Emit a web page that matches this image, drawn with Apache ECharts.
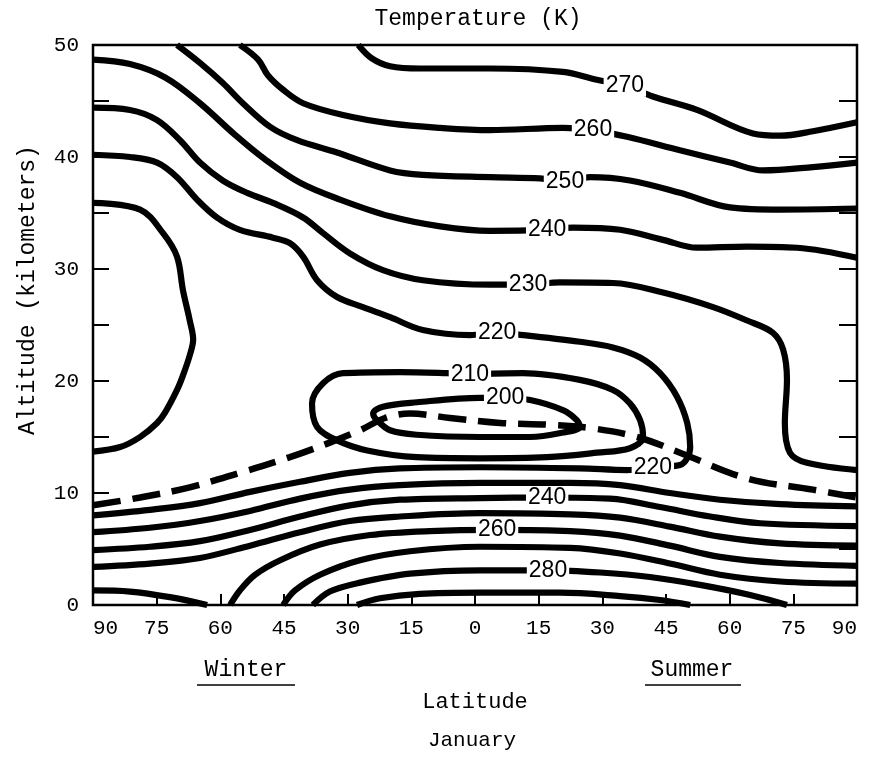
<!DOCTYPE html>
<html>
<head>
<meta charset="utf-8">
<script src="https://cdn.jsdelivr.net/npm/echarts@6/dist/echarts.min.js"></script>
<style>
  html, body { margin: 0; padding: 0; background: #fff; }
  #chart { width: 875px; height: 757px; }
</style>
</head>
<body>
<div id="chart"></div>
<script>
// January temperature (K): latitude (winter < 0 < summer) vs altitude (km)
// every contour is a list of [latitude, altitude] points

var c270 = [[-27.5, 50], [-24.3, 48.8], [-20.0, 48.1], [-13.0, 47.9], [3.5, 47.9], [20.7, 47.6], [28.7, 46.9], [35.3, 46.4], [41.9, 45.4], [52.3, 44.2], [65.5, 42.1], [71.9, 41.9], [79.6, 42.3], [90, 43.1]]
var c260 = [[-55.4, 50], [-51.1, 48.7], [-48.8, 47.3], [-45.2, 46.0], [-40.5, 44.8], [-31.1, 43.75], [-20.0, 43.0], [-8.2, 42.6], [3.5, 42.4], [20.7, 42.6], [27.8, 42.4], [35.8, 41.8], [48.3, 40.6], [60.1, 39.5], [67.9, 38.8], [79.6, 39.1], [90, 39.5]]
var c250 = [[-70.2, 50], [-64.8, 48.4], [-59.4, 46.6], [-54.7, 44.8], [-48.3, 42.7], [-41.9, 41.5], [-32.5, 40.4], [-20.0, 38.8], [-12.3, 38.4], [3.5, 38.2], [15.3, 38.1], [21.2, 37.9], [27.1, 38.2], [36.5, 37.9], [48.3, 36.8], [60.1, 35.5], [71.9, 35.3], [90, 35.4]]
var c240 = [[-90, 48.7], [-81.3, 48.3], [-73.0, 47.1], [-64.8, 44.8], [-56.6, 42.0], [-49.5, 39.8], [-41.2, 37.7], [-31.8, 36.2], [-20.0, 34.7], [-8.2, 33.8], [3.5, 33.4], [17.0, 33.5], [23.1, 33.7], [34.2, 33.5], [44.3, 32.6], [52.3, 31.9], [64.1, 32.0], [75.9, 31.9], [90, 31.0]]
var c230 = [[-90, 44.4], [-81.3, 44.2], [-74.9, 43.3], [-69.5, 41.5], [-64.8, 39.5], [-59.4, 37.9], [-53.7, 36.8], [-47.6, 35.9], [-40.5, 34.6], [-35.8, 33.2], [-29.5, 31.4], [-21.7, 29.9], [-12.3, 29.0], [3.5, 28.6], [12.5, 28.6], [20.0, 28.8], [32.5, 28.75], [44.3, 27.9], [56.1, 26.6], [64.1, 25.4], [70.2, 24.3], [72.6, 22.8], [73.5, 20.1], [73.0, 16.25], [74.2, 13.6], [78.2, 12.7], [90, 12.05]]
// 220 runs in from the winter side, round the 210 cell and back out below it
var c220 = [[-90, 40.2], [-81.3, 40.0], [-74.9, 39.5], [-70.2, 38.2], [-65.5, 36.2], [-60.8, 34.6], [-55.4, 33.5], [-47.6, 32.8], [-43.6, 32.3], [-40.5, 31.1], [-37.2, 29.0], [-32.5, 27.5], [-26.4, 26.6], [-20.0, 25.7], [-12.3, 24.55], [-1.2, 24.1], [5.2, 24.3], [11.3, 24.1], [24.7, 23.5], [32.5, 23.0], [38.9, 22.1], [43.6, 20.7], [47.6, 18.6], [50.0, 16.25], [50.7, 14.1], [50.0, 13.1], [48.3, 12.5], [41.9, 12.3], [35.8, 12.05], [24.7, 12.2], [1.2, 12.3], [-17.7, 12.2], [-29.5, 11.8], [-41.2, 11.0], [-53.0, 10.1], [-64.8, 9.1], [-76.6, 8.5], [-90, 8.0]]
var c210w = [[-90, 35.9], [-78.9, 35.3], [-73.5, 33.2], [-70.2, 31.1], [-68.8, 28.1], [-67.2, 25.4], [-66.4, 23.7], [-67.2, 22.3], [-68.8, 20.5], [-70.2, 19.2], [-73.0, 17.2], [-74.9, 16.25], [-78.9, 15.0], [-83.6, 14.1], [-90, 13.7]]
var c210 = [[-1.2, 20.6], [11.3, 20.7], [24.7, 20.1], [32.5, 19.2], [36.5, 18.0], [38.9, 16.5], [39.6, 15.0], [36.5, 14.0], [28.7, 13.6], [17.0, 13.2], [1.2, 13.1], [-13.7, 13.2], [-25.4, 13.8], [-32.5, 14.7], [-37.2, 15.9], [-38.4, 18.0], [-35.8, 19.8], [-31.1, 20.7], [-17.7, 20.8], [-6.6, 20.7], [-1.2, 20.6]]
var c200 = [[6.6, 18.5], [13.0, 18.3], [20.7, 17.4], [24.0, 16.5], [24.7, 15.9], [20.7, 15.4], [13.0, 15.0], [1.2, 15.0], [-13.7, 15.2], [-20.0, 15.6], [-23.1, 16.5], [-24.0, 17.1], [-21.7, 17.7], [-13.7, 18.1], [1.2, 18.5], [6.6, 18.5]]
var c230b = [[-90, 6.5], [-76.6, 6.9], [-64.8, 7.5], [-53.0, 8.4], [-41.2, 9.5], [-29.5, 10.3], [-17.7, 10.7], [1.2, 10.9], [22.4, 10.9], [34.2, 10.7], [45.9, 10.0], [57.7, 9.4], [71.9, 9.0], [90, 8.8]]
var c240b = [[-90, 4.9], [-76.6, 5.2], [-64.8, 5.7], [-53.0, 6.7], [-41.2, 7.9], [-29.5, 8.9], [-17.7, 9.4], [1.2, 9.55], [17.0, 9.6], [31.8, 9.5], [43.6, 8.75], [55.4, 7.9], [67.2, 7.3], [90, 7.05]]
var c250b = [[-90, 3.4], [-76.6, 3.7], [-64.8, 4.2], [-53.0, 5.3], [-41.2, 6.5], [-29.5, 7.5], [-17.7, 7.9], [1.2, 8.2], [22.4, 8.1], [34.2, 7.8], [45.9, 7.0], [57.7, 6.1], [71.9, 5.5], [90, 5.3]]
var c250c = [[-90, 1.3], [-81.3, 1.2], [-71.9, 0.7], [-63.1, 0]]
var c260b = [[-57.7, 0], [-55.4, 1.3], [-51.8, 2.7], [-45.9, 4.0], [-36.5, 5.4], [-24.7, 6.25], [-10.6, 6.6], [5.2, 6.7], [22.4, 6.6], [34.2, 6.2], [45.9, 5.3], [57.7, 4.3], [71.9, 3.75], [90, 3.5]]
var c270b = [[-45.2, 0], [-42.4, 1.3], [-36.5, 2.7], [-27.1, 4.0], [-15.3, 4.8], [1.2, 5.2], [22.4, 5.1], [34.2, 4.6], [45.9, 3.7], [57.7, 2.7], [71.9, 2.1], [90, 1.9]]
var c280 = [[-38.2, 0], [-34.2, 1.2], [-27.1, 2.0], [-15.3, 2.8], [1.2, 3.1], [17.2, 3.1], [29.5, 2.9], [41.2, 2.5], [53.0, 1.8], [64.8, 0.9], [73.5, 0]]
var c290 = [[-27.8, 0], [-22.4, 0.6], [-13.0, 1.0], [1.2, 1.1], [20.0, 1.1], [34.2, 0.8], [43.6, 0.45], [50.7, 0]]
// tropopause (dashed)
var tropopause = [[-90, 8.9], [-78.9, 9.6], [-67.2, 10.5], [-55.4, 11.8], [-43.6, 13.2], [-34.2, 14.5], [-27.1, 15.6], [-21.2, 16.7], [-15.3, 17.1], [-5.9, 16.7], [5.9, 16.25], [17.0, 16.1], [27.1, 15.8], [38.2, 15.0], [48.3, 13.6], [64.1, 11.3], [79.6, 10.3], [90, 9.6]]

var contours = [c270, c260, c250, c240, c230, c220, c210w, c210, c200, c230b, c240b, c250b, c250c, c260b, c270b, c280, c290]

// inline contour labels: [text, latitude, altitude]
var contourLabels = [
  ['270', 35.3, 46.4], ['260', 27.8, 42.4], ['250', 21.2, 37.8], ['240', 17.0, 33.5],
  ['230', 12.5, 28.6], ['220', 5.2, 24.3], ['210', -1.2, 20.6], ['200', 7.1, 18.5],
  ['220', 41.9, 12.3], ['240', 17.0, 9.6], ['260', 5.2, 6.7], ['280', 17.2, 3.1]
]

var mono = '"Liberation Mono", "DejaVu Sans Mono", monospace'

var series = contours.map(function (c) {
  return {
    type: 'line',
    data: c,
    smooth: 0.35,
    symbol: 'none',
    silent: true,
    lineStyle: { color: '#000', width: 6.2 },
    z: 2
  }
})
series.push({
  type: 'line',
  data: tropopause,
  smooth: 0.35,
  symbol: 'none',
  silent: true,
  lineStyle: { color: '#000', width: 6.5, type: [28, 12] },
  z: 2
})
series.push({
  type: 'scatter',
  data: contourLabels.map(function (l) {
    return { name: l[0], value: [l[1], l[2]] }
  }),
  symbolSize: 1,
  itemStyle: { color: '#fff', opacity: 1 },
  silent: true,
  z: 5,
  label: {
    show: true,
    position: 'inside',
    formatter: '{b}',
    color: '#000',
    opacity: 1,
    textBorderWidth: 0,
    fontFamily: '"Liberation Sans", Arial, sans-serif',
    fontSize: 23,
    backgroundColor: '#fff',
    padding: [0, 2]
  }
})

var myChart = echarts.init(document.getElementById('chart'))
myChart.setOption({
  animation: false,
  backgroundColor: '#fff',
  grid: {
    left: 93,
    right: 18,
    top: 45,
    bottom: 152,
    containLabel: false,
    outerBoundsMode: 'none',
    show: true,
    borderColor: '#000',
    borderWidth: 2.5
  },
  xAxis: {
    type: 'value',
    min: -90,
    max: 90,
    interval: 15,
    name: 'Latitude',
    nameLocation: 'middle',
    nameGap: 86,
    nameTextStyle: { color: '#000', fontFamily: mono, fontSize: 22 },
    axisLine: { show: false, onZero: false },
    axisTick: { inside: true, length: 11, lineStyle: { color: '#000', width: 2 } },
    splitLine: { show: false },
    axisLabel: {
      margin: 13,
      color: '#000',
      fontFamily: mono,
      fontSize: 21,
      alignMinLabel: 'left',
      alignMaxLabel: 'right',
      formatter: function (v) { return Math.abs(v) }
    }
  },
  yAxis: [{
    type: 'value',
    min: 0,
    max: 50,
    interval: 5,
    axisLine: { show: false, onZero: false },
    axisTick: { inside: true, length: 16, lineStyle: { color: '#000', width: 2 } },
    splitLine: { show: false },
    axisLabel: {
      margin: 14,
      color: '#000',
      fontFamily: mono,
      fontSize: 21,
      formatter: function (v) { return v % 10 === 0 ? v : '' }
    }
  }, {
    type: 'value',
    position: 'right',
    min: 0,
    max: 50,
    interval: 5,
    axisLine: { show: false, onZero: false },
    axisTick: { inside: true, length: 18, lineStyle: { color: '#000', width: 2 } },
    splitLine: { show: false },
    axisLabel: { show: false }
  }],
  graphic: [
    { type: 'text', x: 478, y: 19, style: { text: 'Temperature (K)', fill: '#000', font: '23px ' + mono, align: 'center', verticalAlign: 'middle', textAlign: 'center', textVerticalAlign: 'middle' } },
    { type: 'text', x: 28, y: 290, rotation: Math.PI / 2, style: { text: 'Altitude (kilometers)', fill: '#000', font: '23px ' + mono, align: 'center', verticalAlign: 'middle', textAlign: 'center', textVerticalAlign: 'middle' } },
    { type: 'text', x: 246, y: 670, style: { text: 'Winter', fill: '#000', font: '23px ' + mono, align: 'center', verticalAlign: 'middle', textAlign: 'center', textVerticalAlign: 'middle' } },
    { type: 'line', shape: { x1: 197, y1: 685, x2: 295, y2: 685 }, style: { stroke: '#000', lineWidth: 1.5 } },
    { type: 'text', x: 692, y: 670, style: { text: 'Summer', fill: '#000', font: '23px ' + mono, align: 'center', verticalAlign: 'middle', textAlign: 'center', textVerticalAlign: 'middle' } },
    { type: 'line', shape: { x1: 645, y1: 685, x2: 741, y2: 685 }, style: { stroke: '#000', lineWidth: 1.5 } },
    { type: 'text', x: 472, y: 740, style: { text: 'January', fill: '#000', font: '21px ' + mono, align: 'center', verticalAlign: 'middle', textAlign: 'center', textVerticalAlign: 'middle' } }
  ],
  series: series
})
</script>
</body>
</html>
